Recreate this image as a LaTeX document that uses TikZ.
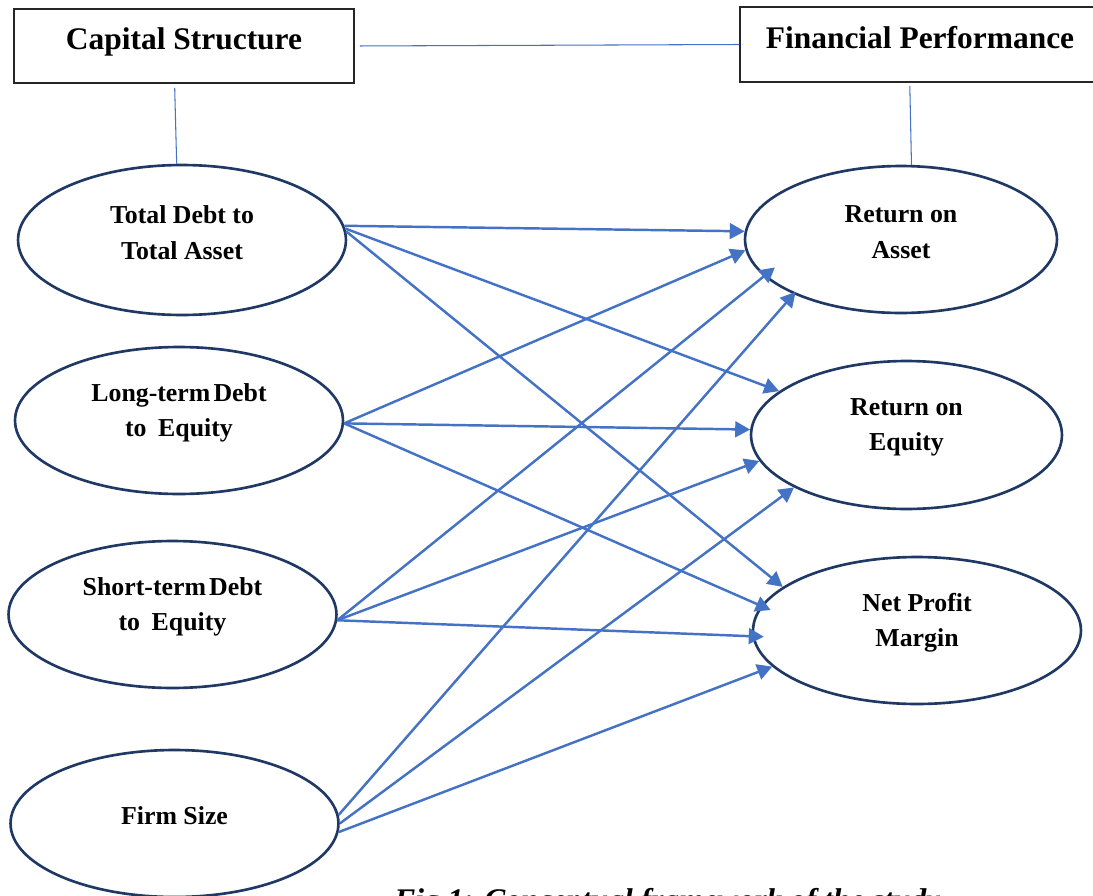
\documentclass[tikz,border=0pt]{standalone}
\usepackage{fontspec}
\setmainfont{Liberation Serif}
\usetikzlibrary{shapes.geometric,arrows.meta}
\definecolor{azul}{HTML}{4472C4}
\definecolor{marinho}{HTML}{1F3864}

\begin{document}
\begin{tikzpicture}[x=0.02cm,y=-0.02cm,
    caixa/.style={draw=black!85,line width=0.9pt,minimum width=6.8cm,minimum height=1.48cm,inner sep=0pt,
        font=\fontsize{17.9}{21}\selectfont\bfseries,text height=12pt,text depth=8pt},
    oval/.style={ellipse,draw=marinho,line width=1.5pt,minimum width=6.56cm,minimum height=2.94cm,inner sep=0pt},
    rotulo/.style={align=center,inner sep=0pt,font=\fontsize{14.7}{20.2}\selectfont\bfseries},
    liga/.style={draw=azul,line width=0.6pt},
    seta/.style={draw=azul,line width=1.4pt,-{Triangle[length=8.5pt,width=9pt]}}]
        % escala: 1 unidade = 0.2 mm, y cresce para baixo
        \useasboundingbox (0,0) rectangle (1093,896);
        \clip (0,0) rectangle (1093,896);
        \node[caixa] (cs) at (184,46) {Capital Structure};
        \node[caixa,minimum width=7.2cm,minimum height=1.5cm] (fp) at (920,44.5) {Financial Performance};
        \node[oval,minimum height=3cm] (td) at (182,240) {};
        \node[oval] (lt) at (179,420.5) {};
        \node[oval] (st) at (172.5,614.5) {};
        \node[oval] (fs) at (174.5,823.5) {};
        \node[oval,minimum width=6.24cm] (roa) at (901,239.5) {};
        \node[oval,minimum width=6.22cm,minimum height=2.96cm] (roe) at (906.5,435) {};
        \node[oval] (npm) at (917,630.5) {};
        \foreach \n/\t in {td/{Total Debt to\\Total Asset},lt/{Long-term\hspace{0.12em}Debt\\to\hspace{0.45em}Equity},
            st/{Short-term\hspace{0.12em}Debt\\to\hspace{0.45em}Equity},fs/{Firm Size},
            roa/{Return on\\Asset},roe/{Return on\\Equity},npm/{Net Profit\\Margin}}{
            \node[rotulo] (\n-t) at ([yshift=0.15cm]\n.center) {\t};
        }
        \draw[liga,shorten <=0.1cm] (cs.east) -- (fp.west);
        \draw[liga,shorten <=0.08cm] (cs.256) -- (td.94);
        \draw[liga,shorten <=0.06cm] (fp.255) -- (roa.82);
        \foreach \a/\b/\s in {td.5/roa.177/0cm,td.4/roe.161/0cm,td.3/npm.162/0cm,
            lt.359/roa.184/0cm,lt.359/roe.178/0cm,lt.359/npm.171/-0.21cm,
            st.358/roa.195/-0.28cm,st.358/roe.190/0cm,st.358/npm.182/-0.23cm,
            fs.3/roa.207/-0.06cm,fs.0/roe.205/0cm,fs.357/npm.194/0cm}{
            \draw[seta,shorten >=\s] (\a) -- (\b);
        }
        \node[anchor=base west,inner sep=0pt,font=\fontsize{17.9}{21}\selectfont\bfseries\itshape] (leg) at (394,910)
            {Fig 1: Conceptual framework of the study};
\end{tikzpicture}
\end{document}
